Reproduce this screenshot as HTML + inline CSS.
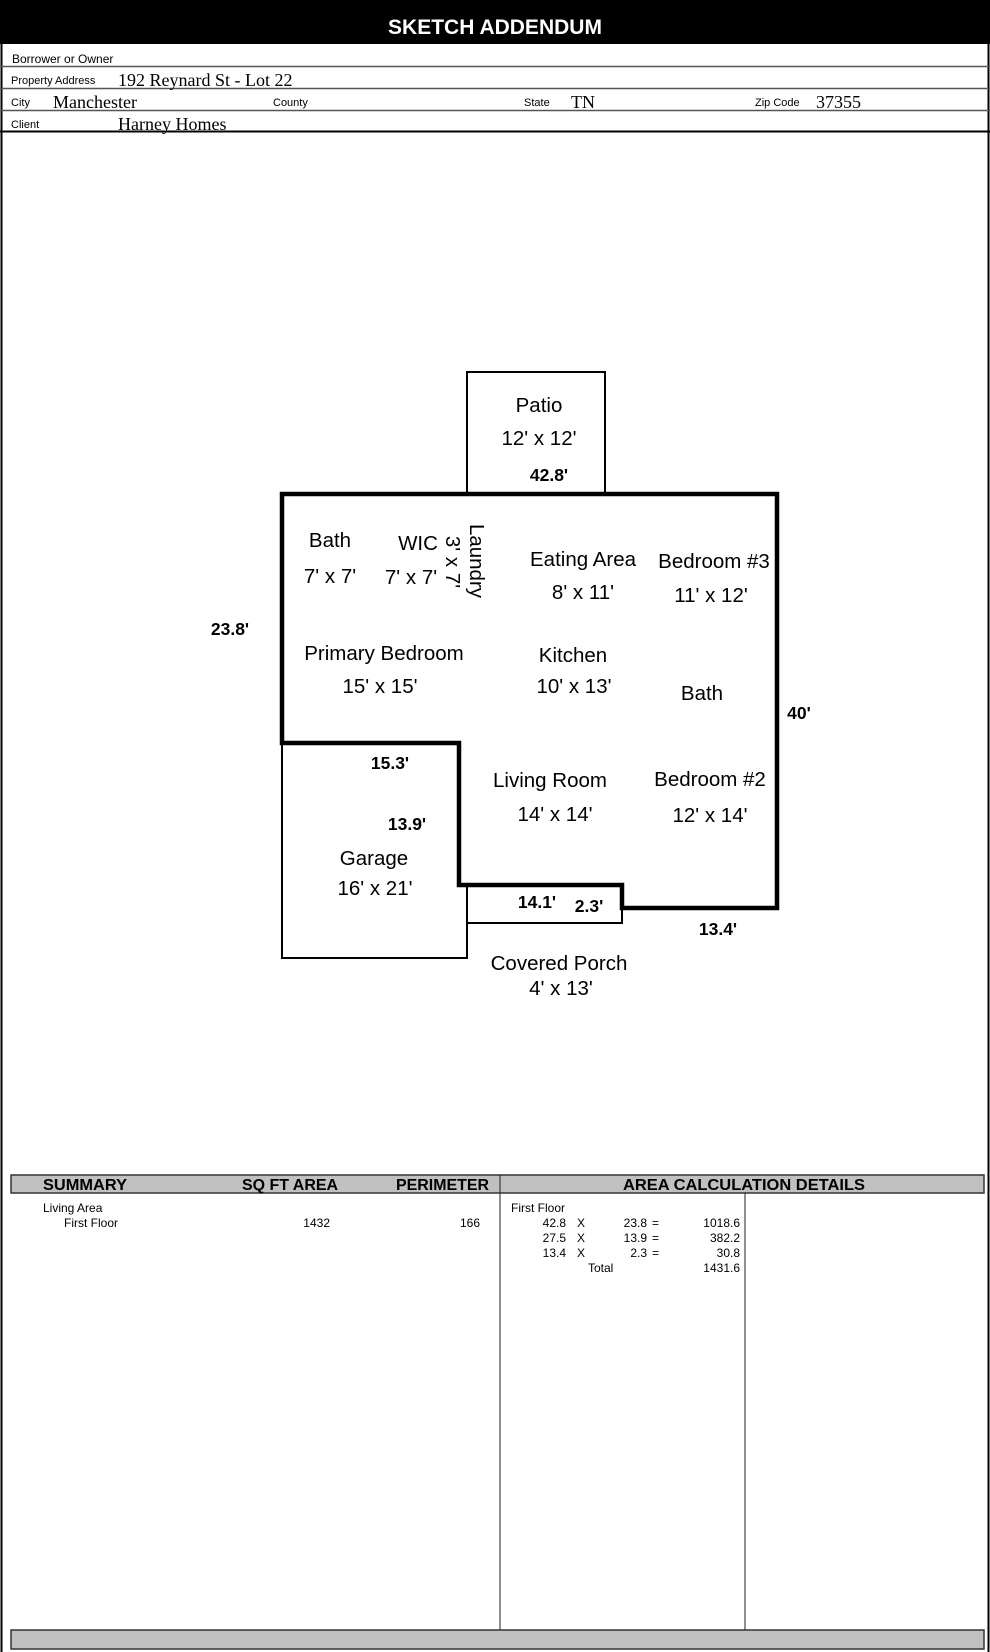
<!DOCTYPE html>
<html><head><meta charset="utf-8"><style>
html,body{margin:0;padding:0;background:#fff;}
svg{display:block;}
.s{font-family:"Liberation Sans",sans-serif;}
.r{font-family:"Liberation Serif",serif;}
</style></head><body>
<svg width="990" height="1652" viewBox="0 0 990 1652" xmlns="http://www.w3.org/2000/svg">
<rect x="0" y="0" width="990" height="1652" fill="#fff"/>
<rect x="0" y="0" width="990" height="44" fill="#000"/>
<text x="495" y="34" text-anchor="middle" class="s" font-weight="bold" font-size="21" fill="#fff">SKETCH ADDENDUM</text>
<line x1="1.5" y1="44" x2="1.5" y2="1652" stroke="#000" stroke-width="2"/>
<line x1="988.5" y1="44" x2="988.5" y2="1652" stroke="#000" stroke-width="2"/>
<line x1="0" y1="66.5" x2="990" y2="66.5" stroke="#555" stroke-width="1.5"/>
<line x1="0" y1="88.5" x2="990" y2="88.5" stroke="#555" stroke-width="1.5"/>
<line x1="0" y1="110.5" x2="990" y2="110.5" stroke="#555" stroke-width="1.5"/>
<line x1="0" y1="131.5" x2="990" y2="131.5" stroke="#000" stroke-width="2"/>
<g class="s" font-size="12" fill="#000">
<text x="12" y="63">Borrower or Owner</text>
<text x="11" y="84" font-size="11">Property Address</text>
<text x="11" y="106" font-size="11">City</text>
<text x="273" y="106" font-size="11">County</text>
<text x="524" y="106" font-size="11">State</text>
<text x="755" y="106" font-size="11">Zip Code</text>
<text x="11" y="128" font-size="11">Client</text>
</g>
<g class="r" font-size="18" fill="#000">
<text x="118" y="86">192 Reynard St - Lot 22</text>
<text x="53" y="108">Manchester</text>
<text x="571" y="108">TN</text>
<text x="816" y="108">37355</text>
<text x="118" y="130">Harney Homes</text>
</g>

<rect x="467" y="372" width="138" height="122" fill="none" stroke="#000" stroke-width="2"/>
<polyline points="282,743 282,958 467,958 467,885" fill="none" stroke="#000" stroke-width="2"/>
<polyline points="467,885 467,923 622,923 622,909" fill="none" stroke="#000" stroke-width="2"/>
<polygon points="282,494 777,494 777,908 622,908 622,885 459,885 459,743 282,743" fill="none" stroke="#000" stroke-width="4.5"/>

<g class="s" font-size="20.5" fill="#000" text-anchor="middle">
<text x="539" y="412">Patio</text>
<text x="539" y="445">12' x 12'</text>
<text x="330" y="547">Bath</text>
<text x="330" y="583">7' x 7'</text>
<text x="418" y="550">WIC</text>
<text x="411" y="584">7' x 7'</text>
<text transform="translate(470,561) rotate(90)">Laundry</text>
<text transform="translate(446,562) rotate(90)">3' x 7'</text>
<text x="583" y="566">Eating Area</text>
<text x="583" y="599">8' x 11'</text>
<text x="714" y="568">Bedroom #3</text>
<text x="711" y="602">11' x 12'</text>
<text x="384" y="660">Primary Bedroom</text>
<text x="380" y="693">15' x 15'</text>
<text x="573" y="662">Kitchen</text>
<text x="574" y="693">10' x 13'</text>
<text x="702" y="700">Bath</text>
<text x="550" y="787">Living Room</text>
<text x="555" y="821">14' x 14'</text>
<text x="710" y="786">Bedroom #2</text>
<text x="710" y="822">12' x 14'</text>
<text x="374" y="865">Garage</text>
<text x="375" y="895">16' x 21'</text>
<text x="559" y="970">Covered Porch</text>
<text x="561" y="995">4' x 13'</text>
</g>
<g class="s" font-size="17.5" font-weight="bold" fill="#000" text-anchor="middle">
<text x="549" y="481">42.8'</text>
<text x="230" y="635">23.8'</text>
<text x="799" y="719">40'</text>
<text x="390" y="769">15.3'</text>
<text x="407" y="830">13.9'</text>
<text x="537" y="908">14.1'</text>
<text x="589" y="912">2.3'</text>
<text x="718" y="935">13.4'</text>
</g>

<rect x="11" y="1175" width="973" height="18" fill="#c0c0c0" stroke="#333" stroke-width="1.5"/>
<line x1="500" y1="1175" x2="500" y2="1630" stroke="#222" stroke-width="1"/>
<line x1="745" y1="1193" x2="745" y2="1630" stroke="#222" stroke-width="1"/>
<g class="s" font-size="16" font-weight="bold" fill="#000">
<text x="43" y="1190" textLength="84" lengthAdjust="spacingAndGlyphs">SUMMARY</text>
<text x="242" y="1190" textLength="96" lengthAdjust="spacingAndGlyphs">SQ FT AREA</text>
<text x="396" y="1190" textLength="93" lengthAdjust="spacingAndGlyphs">PERIMETER</text>
<text x="623" y="1190" textLength="242" lengthAdjust="spacingAndGlyphs">AREA CALCULATION DETAILS</text>
</g>
<g class="s" font-size="12" fill="#000">
<text x="43" y="1212">Living Area</text>
<text x="64" y="1227">First Floor</text>
<text x="330" y="1227" text-anchor="end">1432</text>
<text x="480" y="1227" text-anchor="end">166</text>
<text x="511" y="1212">First Floor</text>
<text x="566" y="1227" text-anchor="end">42.8</text><text x="577" y="1227">X</text><text x="647" y="1227" text-anchor="end">23.8</text><text x="652" y="1227">=</text><text x="740" y="1227" text-anchor="end">1018.6</text>
<text x="566" y="1242" text-anchor="end">27.5</text><text x="577" y="1242">X</text><text x="647" y="1242" text-anchor="end">13.9</text><text x="652" y="1242">=</text><text x="740" y="1242" text-anchor="end">382.2</text>
<text x="566" y="1257" text-anchor="end">13.4</text><text x="577" y="1257">X</text><text x="647" y="1257" text-anchor="end">2.3</text><text x="652" y="1257">=</text><text x="740" y="1257" text-anchor="end">30.8</text>
<text x="588" y="1272">Total</text><text x="740" y="1272" text-anchor="end">1431.6</text>
</g>
<rect x="11" y="1630" width="973" height="19" fill="#c0c0c0" stroke="#333" stroke-width="1.5"/>
</svg>
</body></html>
